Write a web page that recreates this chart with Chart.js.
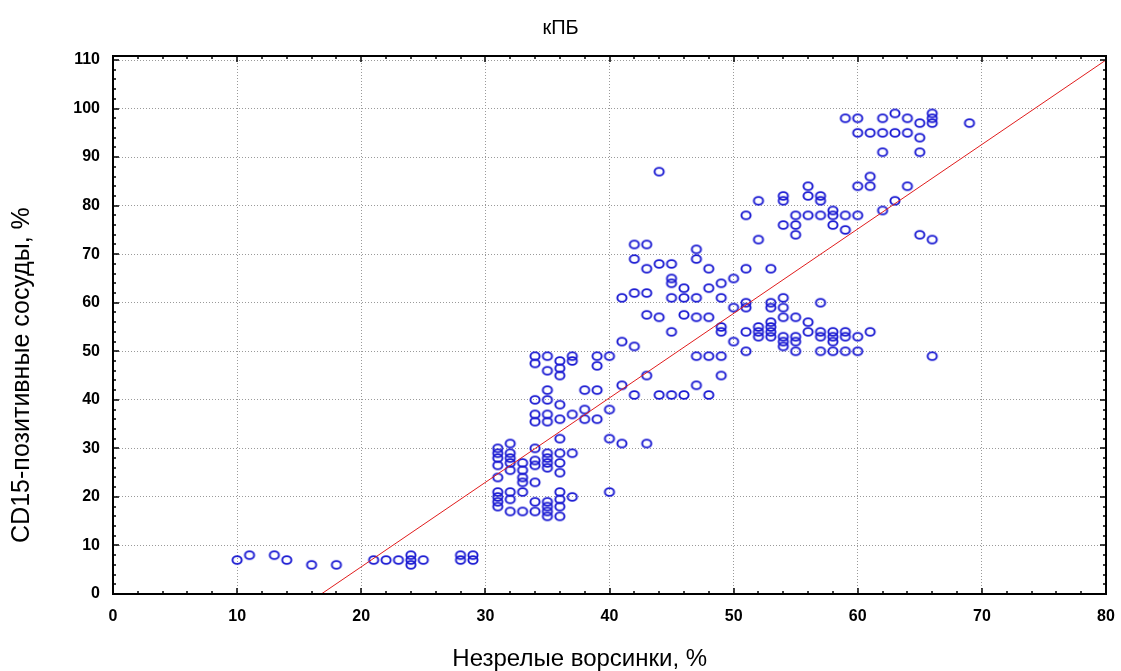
<!DOCTYPE html>
<html>
<head>
<meta charset="utf-8">
<script src="https://cdn.jsdelivr.net/npm/chart.js@4"></script>
<style>
  html, body { margin: 0; padding: 0; background: #fff; }
</style>
</head>
<body>
<canvas id="chart" width="1121" height="671"></canvas>
<script>
// Незрелые ворсинки (%) - each entry is one x position
const villi = [10, 11, 13, 14, 16, 18, 21, 22, 23, 24, 25, 28, 29,
  31, 32, 33, 34, 35, 36, 37, 38, 39, 40, 41, 42, 43, 44, 45, 46, 47, 48, 49, 50,
  51, 52, 53, 54, 55, 56, 57, 58, 59, 60, 61, 62, 63, 64, 65, 66, 69];

// CD15-позитивные сосуды (%) observed at each x position above
const vessels = [
  [7], [8], [8], [7], [6], [6], [7], [7], [7], [8, 7, 6], [7], [8, 7], [8, 7],
  [30, 29, 28, 26.5, 24, 21, 20, 19, 18],
  [31, 29, 28, 27, 25.5, 21, 19.5, 17],
  [27, 25.5, 24, 23, 21, 17],
  [30, 27.5, 26.5, 23, 19, 17, 49, 47.5, 40, 37, 35.5],
  [29, 28, 27, 26, 19, 18, 17, 16, 49, 46, 42, 40, 37, 35.5],
  [32, 29, 27, 25, 21, 19.5, 18, 16, 48, 46.5, 45, 39, 36],
  [29, 20, 49, 48, 37],
  [42, 38, 36],
  [49, 47, 42, 36],
  [49, 38, 32, 21],
  [52, 43, 31, 61],
  [51, 41, 62, 72, 69],
  [45, 31, 62, 72, 67, 57.5],
  [68, 57, 41, 87],
  [68, 65, 64, 61, 54, 41],
  [63, 61, 57.5, 41],
  [71, 69, 61, 57, 49, 43],
  [67, 63, 57, 49, 41],
  [64, 61, 55, 54, 49, 45],
  [65, 59, 52],
  [78, 67, 60, 59, 54, 50],
  [81, 73, 55, 54, 53],
  [67, 60, 59, 56, 55, 54, 53],
  [82, 81, 76, 61, 59, 57, 53, 52, 51],
  [78, 76, 74, 57, 53, 52, 50],
  [84, 82, 78, 56, 54],
  [82, 81, 78, 60, 54, 53, 50],
  [79, 78, 76, 54, 53, 52, 50],
  [98, 78, 75, 54, 53, 50],
  [98, 95, 84, 78, 53, 50],
  [95, 86, 84, 54],
  [98, 95, 91, 79],
  [99, 95, 81],
  [98, 95, 84],
  [97, 94, 91, 74],
  [99, 98, 97, 73, 49],
  [97]
];

// linear fit drawn across the plot
const fitIntercept = -29.2;
const fitSlope = 1.74;

const xMin = 0, xMax = 80, xStep = 10;
const yMin = 0, yMax = 110, yStep = 10;
const minorStep = 2;

const chartTitle = 'кПБ';
const xTitle = 'Незрелые ворсинки, %';
const yTitle = 'CD15-позитивные сосуды, %';

const family = "'Liberation Sans', Arial, sans-serif";

const points = villi.flatMap((x, i) => vessels[i].map(y => ({ x: x, y: y })));
const fitPoints = [
  { x: -fitIntercept / fitSlope, y: 0 },
  { x: xMax, y: fitIntercept + fitSlope * xMax }
];

// small hollow blue ring used as the marker
const ring = document.createElement('canvas');
ring.width = 14;
ring.height = 12;
(function () {
  const c = ring.getContext('2d');
  c.strokeStyle = '#1a1ad2';
  c.lineWidth = 1.9;
  c.beginPath();
  c.ellipse(7, 6, 4.6, 3.9, 0, 0, Math.PI * 2);
  c.stroke();
})();

// box around the plot with inward ticks on every side
const frameTicks = {
  id: 'frameTicks',
  afterDraw(chart) {
    const { ctx, chartArea: a, scales: { x, y } } = chart;
    const top = a.top - 4;
    ctx.save();
    ctx.strokeStyle = '#000';
    ctx.lineWidth = 2;
    ctx.strokeRect(a.left, top, a.right - a.left, a.bottom - top);
    ctx.lineWidth = 1.5;
    ctx.beginPath();
    for (let v = xMin; v <= xMax; v += minorStep) {
      const px = Math.round(x.getPixelForValue(v));
      const len = v % xStep === 0 ? 6 : 3;
      ctx.moveTo(px, a.bottom);
      ctx.lineTo(px, a.bottom - len);
      ctx.moveTo(px, top);
      ctx.lineTo(px, top + len);
    }
    for (let v = yMin; v <= yMax; v += minorStep) {
      const py = Math.round(y.getPixelForValue(v));
      const len = v % yStep === 0 ? 6 : 3;
      ctx.moveTo(a.left, py);
      ctx.lineTo(a.left + len, py);
      ctx.moveTo(a.right, py);
      ctx.lineTo(a.right - len, py);
    }
    ctx.stroke();
    ctx.restore();
  }
};

// chart title and axis titles
const captions = {
  id: 'captions',
  afterDraw(chart) {
    const { ctx, chartArea: a } = chart;
    ctx.save();
    ctx.fillStyle = '#000';
    ctx.textAlign = 'center';
    ctx.textBaseline = 'middle';
    ctx.font = '20px ' + family;
    ctx.fillText(chartTitle, chart.width / 2, 28);
    ctx.font = '24px ' + family;
    ctx.fillText(xTitle, a.left + (a.right - a.left) * 0.47, chart.height - 12);
    ctx.translate(22, a.top + (a.bottom - a.top) * 0.59);
    ctx.rotate(-Math.PI / 2);
    ctx.font = '25px ' + family;
    ctx.fillText(yTitle, 0, 0);
    ctx.restore();
  }
};

const tickFont = { family: family, size: 16, weight: 'bold' };

new Chart(document.getElementById('chart'), {
  type: 'scatter',
  data: {
    datasets: [
      {
        data: points,
        pointStyle: ring,
        pointRadius: 5,
        showLine: false,
        order: 2
      },
      {
        data: fitPoints,
        showLine: true,
        borderColor: '#e01c1c',
        borderWidth: 1,
        pointRadius: 0,
        order: 1
      }
    ]
  },
  options: {
    responsive: false,
    animation: false,
    events: [],
    layout: { padding: { top: 60, right: 15 } },
    plugins: {
      legend: { display: false },
      tooltip: { enabled: false }
    },
    scales: {
      x: {
        type: 'linear',
        min: xMin,
        max: xMax,
        afterFit: s => { s.height = 77; s.paddingLeft = 0; s.paddingRight = 0; },
        ticks: { stepSize: xStep, padding: 13, color: '#000', font: tickFont },
        grid: { color: '#9a9a9a', lineWidth: 1, drawTicks: false },
        border: { display: false, dash: [1, 2] }
      },
      y: {
        type: 'linear',
        min: yMin,
        max: yMax,
        afterFit: s => { s.width = 113; },
        ticks: { stepSize: yStep, padding: 13, color: '#000', font: tickFont },
        grid: { color: '#9a9a9a', lineWidth: 1, drawTicks: false },
        border: { display: false, dash: [1, 2] }
      }
    }
  },
  plugins: [frameTicks, captions]
});
</script>
</body>
</html>
